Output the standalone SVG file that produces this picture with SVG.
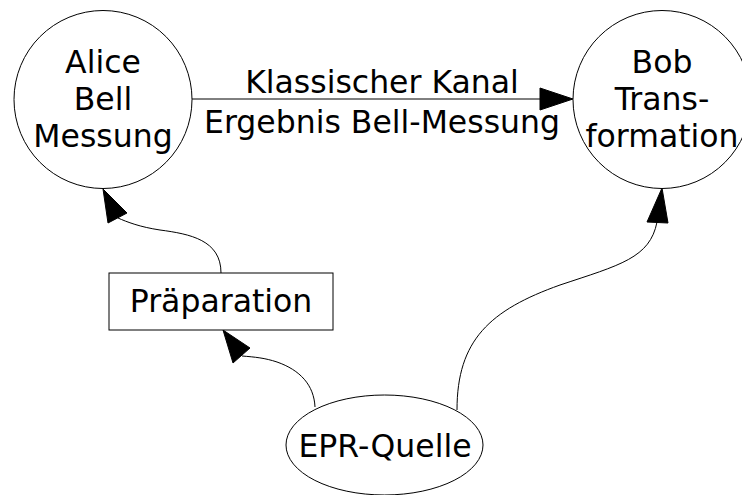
<svg xmlns="http://www.w3.org/2000/svg" width="742" height="495" viewBox="0 0 742 495">
<style>
.n{fill:#fff;stroke:#000;stroke-width:1}
.t{font-family:"DejaVu Sans",sans-serif;font-size:31.5px;text-anchor:middle;fill:#000}
.e{fill:none;stroke:#000;stroke-width:1}
.h{fill:#000;stroke:#000;stroke-width:1}
</style>
<rect width="742" height="495" fill="#fff"/>
<g id="connectors">
<path class="e" d="M192,99 L540,99"/>
<polygon class="h" points="540,88 573,99 540,110"/>
<path class="e" d="M221,273 C221,240 190,234 160,230 C140,227 127,222 118,218"/>
<polygon class="h" points="108,223 103,189 127,213"/>
<path class="e" d="M315,407 C314,385 300,370 277,362 C265,358 255,357 242,356"/>
<polygon class="h" points="233,363 223,330 250,348"/>
<path class="e" d="M457,410 C457,340 490,310 560,285 C620,265 650,258 657,222"/>
<polygon class="h" points="647,222 662,188 668,223"/>
<text class="t" x="382" y="93">Klassischer Kanal</text>
<text class="t" x="382" y="133">Ergebnis Bell-Messung</text>
</g>
<g id="alice">
<circle class="n" cx="103" cy="99.5" r="89"/>
<text class="t" x="103" y="73">Alice</text>
<text class="t" x="103" y="110">Bell</text>
<text class="t" x="103" y="147">Messung</text>
</g>
<g id="bob">
<circle class="n" cx="662" cy="99.5" r="89"/>
<text class="t" x="662" y="73">Bob</text>
<text class="t" x="662" y="110">Trans-</text>
<text class="t" x="662" y="147">formation</text>
</g>
<g id="praeparation">
<rect class="n" x="109" y="273" width="224" height="57"/>
<text class="t" x="221" y="312">Präparation</text>
</g>
<g id="epr">
<ellipse class="n" cx="384.5" cy="445" rx="98.5" ry="50"/>
<text class="t" x="385" y="457">EPR-Quelle</text>
</g>
</svg>
